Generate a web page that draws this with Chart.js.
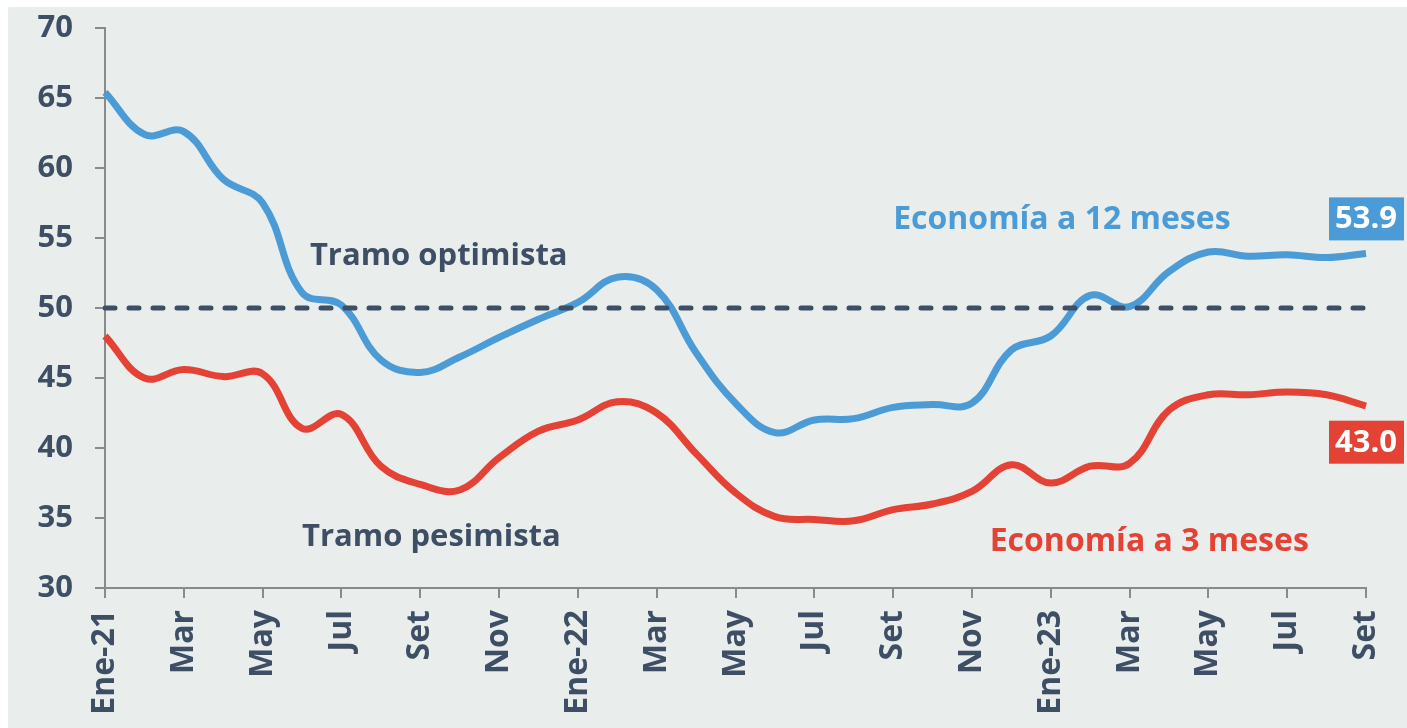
<!DOCTYPE html>
<html>
<head>
<meta charset="utf-8">
<script src="https://cdn.jsdelivr.net/npm/chart.js@4"></script>
<style>
  body { margin: 0; background: #fff; }
  canvas { display: block; }
</style>
</head>
<body>
<canvas id="chart" width="1407" height="728"></canvas>
<script>
// monthly categories, Ene-21 .. Set-23
const months = ['Ene-21', 'Feb', 'Mar', 'Abr', 'May', 'Jun', 'Jul', 'Ago', 'Set', 'Oct', 'Nov', 'Dic',
  'Ene-22', 'Feb', 'Mar', 'Abr', 'May', 'Jun', 'Jul', 'Ago', 'Set', 'Oct', 'Nov', 'Dic',
  'Ene-23', 'Feb', 'Mar', 'Abr', 'May', 'Jun', 'Jul', 'Ago', 'Set'];
const eco12 = [65.4, 62.4, 62.6, 59.2, 57.5, 51.1, 50.2, 46.3, 45.4, 46.5, 47.9, 49.2,
  50.4, 52.2, 51.3, 46.8, 43.2, 41.1, 42.0, 42.1, 42.9, 43.1, 43.2, 47.0,
  48.0, 50.9, 50.1, 52.6, 54.0, 53.7, 53.8, 53.6, 53.9];
const eco3 = [48.0, 45.0, 45.6, 45.1, 45.3, 41.4, 42.4, 38.7, 37.4, 37.0, 39.3, 41.2,
  42.0, 43.3, 42.5, 39.6, 36.8, 35.1, 34.9, 34.8, 35.6, 36.0, 36.9, 38.8,
  37.5, 38.7, 38.9, 42.7, 43.8, 43.8, 44.0, 43.8, 43.0];
const threshold = 50;
const yTicks = [30, 35, 40, 45, 50, 55, 60, 65, 70];

const dark = '#3e4e65';
const blue = '#4b9bd7';
const red = '#e44234';
const font = '"Open Sans", sans-serif';

// background panel + text labels
const decor = {
  id: 'decor',
  beforeDraw(c) {
    const ctx = c.ctx;
    ctx.save();
    ctx.fillStyle = '#e9edec';
    ctx.fillRect(8, 7, c.width - 8, c.height - 7);
    ctx.restore();
  },
  afterDraw(c) {
    const ctx = c.ctx, x = c.scales.x, y = c.scales.y;
    const txt = (s, i, v, col) => {
      ctx.fillStyle = col;
      ctx.textAlign = 'left';
      ctx.textBaseline = 'middle';
      ctx.fillText(s, x.getPixelForValue(i), y.getPixelForValue(v));
    };
    ctx.save();
    ctx.font = 'bold 31px ' + font;
    txt('Tramo optimista', 5.2, 53.7, dark);
    txt('Tramo pesimista', 5.0, 33.6, dark);
    ctx.font = 'bold 32px ' + font;
    txt('Economía a 12 meses', 20.0, 56.3, blue);
    txt('Economía a 3 meses', 22.45, 33.3, red);

    // end-value boxes
    ctx.font = 'bold 31px ' + font;
    const last = months.length - 1;
    const box = (val, v, col) => {
      const cx = x.getPixelForValue(last), cy = y.getPixelForValue(v);
      ctx.fillStyle = col;
      ctx.fillRect(cx - 37, cy - 21, 75, 43);
      ctx.fillStyle = '#fff';
      ctx.textAlign = 'center';
      ctx.textBaseline = 'middle';
      ctx.fillText(val.toFixed(1), cx, cy + 1);
    };
    box(eco12[last], 56.4, blue);
    box(eco3[last], 40.45, red);
    ctx.restore();
  }
};

new Chart(document.getElementById('chart'), {
  type: 'line',
  data: {
    labels: months,
    datasets: [{
      data: months.map(() => threshold),
      borderColor: dark,
      borderWidth: 5,
      borderDash: [10, 14],
      borderCapStyle: 'round',
      pointRadius: 0,
      order: 0
    }, {
      label: 'Economía a 12 meses',
      data: eco12,
      borderColor: blue,
      borderWidth: 7,
      tension: 0.4,
      pointRadius: 0,
      order: 1
    }, {
      label: 'Economía a 3 meses',
      data: eco3,
      borderColor: red,
      borderWidth: 7,
      tension: 0.4,
      pointRadius: 0,
      order: 2
    }]
  },
  options: {
    responsive: false,
    animation: false,
    devicePixelRatio: 1,
    layout: { padding: { top: 28, right: 41, left: 0, bottom: 0 } },
    plugins: { legend: { display: false }, tooltip: { enabled: false } },
    scales: {
      x: {
        afterFit: s => { s.height = 140; s.paddingLeft = 0; s.paddingRight = 0; },
        grid: {
          drawOnChartArea: false,
          tickLength: 10,
          color: '#8a8a8a',
          lineWidth: 2
        },
        border: { color: '#8a8a8a', width: 2 },
        ticks: {
          autoSkip: false,
          maxRotation: 90,
          minRotation: 90,
          padding: 12,
          color: dark,
          font: { family: font, size: 32, weight: 'bold' },
          callback: (v, i) => (i % 2 === 0 ? months[i] : null)
        }
      },
      y: {
        min: 30,
        max: 70,
        afterFit: s => { s.width = 105; s.paddingTop = 0; s.paddingBottom = 0; },
        afterBuildTicks: s => { s.ticks = yTicks.map(v => ({ value: v })); },
        grid: {
          drawOnChartArea: false,
          tickLength: 10,
          color: '#8a8a8a',
          lineWidth: 2
        },
        border: { color: '#8a8a8a', width: 2 },
        ticks: {
          padding: 22,
          color: dark,
          font: { family: font, size: 31, weight: 'bold' }
        }
      }
    }
  },
  plugins: [decor]
});
</script>
</body>
</html>
